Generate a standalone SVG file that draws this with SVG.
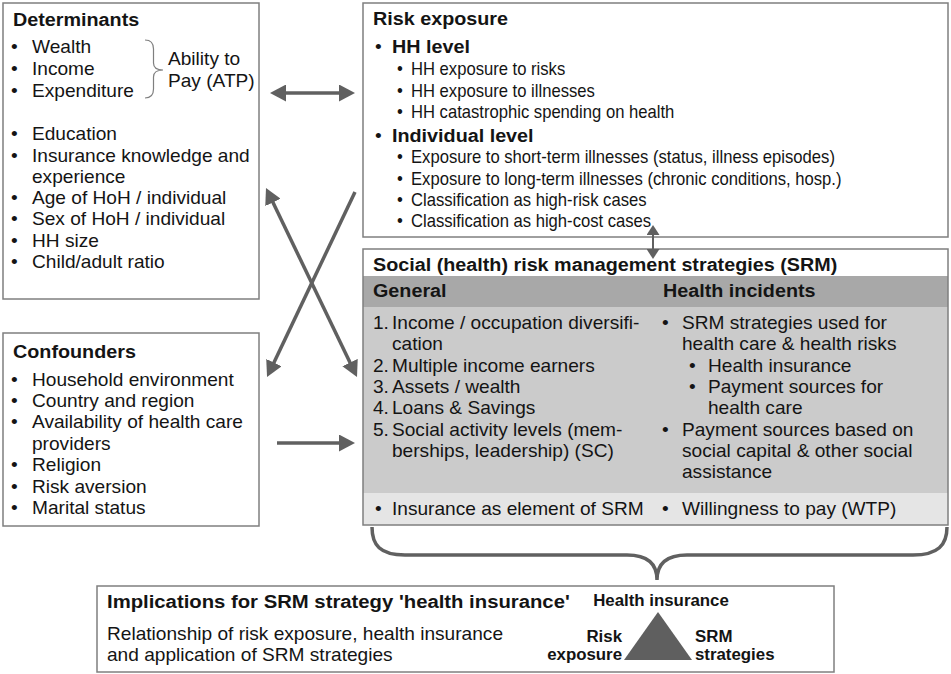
<svg xmlns="http://www.w3.org/2000/svg" width="951" height="674" viewBox="0 0 951 674">
<defs>
<style>
text{font-family:"Liberation Sans",Arial,Helvetica,sans-serif;fill:#141414}
.r{font-size:17.7px}
.b{font-size:18.3px;font-weight:bold}
.bt{font-size:18.8px;font-weight:bold}
.s{font-size:15.6px;font-weight:bold}
.box{fill:#fff;stroke:#7f7f7f;stroke-width:1.5}
.frame{fill:none;stroke:#7f7f7f;stroke-width:1.5}
.arrow{stroke:#606060;stroke-width:3.5;fill:none}
.thin{stroke:#606060;stroke-width:2;fill:none}
.brace{stroke:#7f7f7f;stroke-width:1.2;fill:none}
</style>
<marker id="head" markerUnits="userSpaceOnUse" viewBox="0 0 16 17" markerWidth="16" markerHeight="17" refX="4" refY="8.5" orient="auto-start-reverse">
<path d="M0,0 L16,8.5 L0,17 z" fill="#606060"/>
</marker>
<marker id="headS" markerUnits="userSpaceOnUse" viewBox="0 0 10 13" markerWidth="10" markerHeight="13" refX="3" refY="6.5" orient="auto-start-reverse">
<path d="M0,0 L10,6.5 L0,13 z" fill="#606060"/>
</marker>
</defs>
<rect x="0" y="0" width="951" height="674" fill="#fff"/>

<!-- Determinants -->
<g id="determinants">
<rect class="box" x="3" y="3" width="256" height="296"/>
<g transform="translate(13 0) scale(1.08 1)"><text class="b" y="26">Determinants</text></g>
<g transform="translate(11 0) scale(1.08 1)"><text class="r">
<tspan x="0" y="53">•</tspan><tspan x="0" y="75">•</tspan><tspan x="0" y="97">•</tspan>
<tspan x="0" y="140">•</tspan><tspan x="0" y="162">•</tspan><tspan x="0" y="204">•</tspan>
<tspan x="0" y="225">•</tspan><tspan x="0" y="247">•</tspan><tspan x="0" y="268">•</tspan></text></g>
<g transform="translate(32 0) scale(1.08 1)"><text class="r">
<tspan x="0" y="53">Wealth</tspan><tspan x="0" y="75">Income</tspan><tspan x="0" y="97">Expenditure</tspan>
<tspan x="0" y="140">Education</tspan><tspan x="0" y="162">Insurance knowledge and</tspan><tspan x="0" y="183">experience</tspan>
<tspan x="0" y="204">Age of HoH / individual</tspan><tspan x="0" y="225">Sex of HoH / individual</tspan>
<tspan x="0" y="247">HH size</tspan><tspan x="0" y="268">Child/adult ratio</tspan></text></g>
<path class="brace" d="M145,40 Q153.5,40 153.5,49 L153.5,63 Q153.5,70 163,70 Q153.5,70 153.5,77 L153.5,89 Q153.5,98 145,98"/>
<g transform="translate(168 0) scale(1.08 1)"><text class="r"><tspan x="0" y="65">Ability to</tspan><tspan x="0" y="87">Pay (ATP)</tspan></text></g>
</g>

<!-- Confounders -->
<g id="confounders">
<rect class="box" x="3" y="333" width="256" height="193"/>
<g transform="translate(13 0) scale(1.08 1)"><text class="b" y="358">Confounders</text></g>
<g transform="translate(11 0) scale(1.08 1)"><text class="r">
<tspan x="0" y="386">•</tspan><tspan x="0" y="407">•</tspan><tspan x="0" y="428">•</tspan>
<tspan x="0" y="471">•</tspan><tspan x="0" y="493">•</tspan><tspan x="0" y="514">•</tspan></text></g>
<g transform="translate(32 0) scale(1.08 1)"><text class="r">
<tspan x="0" y="386">Household environment</tspan><tspan x="0" y="407">Country and region</tspan>
<tspan x="0" y="428">Availability of health care</tspan><tspan x="0" y="450">providers</tspan>
<tspan x="0" y="471">Religion</tspan><tspan x="0" y="493">Risk aversion</tspan><tspan x="0" y="514">Marital status</tspan></text></g>
</g>

<!-- Risk exposure -->
<g id="risk-exposure">
<rect class="box" x="363" y="3" width="585" height="234"/>
<g transform="translate(373 0) scale(1.08 1)"><text class="b" y="25">Risk exposure</text></g>
<g transform="translate(375 0) scale(1.08 1)"><text class="r"><tspan x="0" y="53">•</tspan><tspan x="0" y="142">•</tspan></text></g>
<g transform="translate(392 0) scale(1.08 1)"><text class="b"><tspan x="0" y="53">HH level</tspan><tspan x="0" y="142">Individual level</tspan></text></g>
<g transform="translate(397 0) scale(0.94 1)"><text class="r">
<tspan x="0" y="75">•</tspan><tspan x="0" y="97">•</tspan><tspan x="0" y="118">•</tspan>
<tspan x="0" y="163">•</tspan><tspan x="0" y="185">•</tspan><tspan x="0" y="206">•</tspan><tspan x="0" y="227">•</tspan></text></g>
<g transform="translate(411 0) scale(0.94 1)"><text class="r">
<tspan x="0" y="75">HH exposure to risks</tspan><tspan x="0" y="97">HH exposure to illnesses</tspan>
<tspan x="0" y="118">HH catastrophic spending on health</tspan>
<tspan x="0" y="163">Exposure to short-term illnesses (status, illness episodes)</tspan>
<tspan x="0" y="185">Exposure to long-term illnesses (chronic conditions, hosp.)</tspan>
<tspan x="0" y="206">Classification as high-risk cases</tspan>
<tspan x="0" y="227">Classification as high-cost cases</tspan></text></g>
</g>

<!-- Social risk management strategies -->
<g id="srm">
<rect x="363" y="249" width="585" height="276" fill="#fff"/>
<rect x="363" y="276" width="585" height="31" fill="#a8a8a8"/>
<rect x="363" y="307" width="585" height="186" fill="#cbcbcb"/>
<rect x="363" y="493" width="585" height="32" fill="#e5e5e5"/>
<rect class="frame" x="363" y="249" width="585" height="276"/>
<g transform="translate(373 0) scale(1.08 1)"><text class="b"><tspan x="0" y="271">Social (health) risk management strategies (SRM)</tspan><tspan x="0" y="297">General</tspan></text></g>
<g transform="translate(663 0) scale(1.08 1)"><text class="b" y="297">Health incidents</text></g>
<g transform="translate(373 0) scale(1.08 1)"><text class="r">
<tspan x="0" y="329">1.</tspan><tspan x="0" y="372">2.</tspan><tspan x="0" y="393">3.</tspan><tspan x="0" y="414">4.</tspan><tspan x="0" y="436">5.</tspan></text></g>
<g transform="translate(392 0) scale(1.08 1)"><text class="r">
<tspan x="0" y="329">Income / occupation diversifi-</tspan><tspan x="0" y="350">cation</tspan>
<tspan x="0" y="372">Multiple income earners</tspan><tspan x="0" y="393">Assets / wealth</tspan>
<tspan x="0" y="414">Loans &amp; Savings</tspan><tspan x="0" y="436">Social activity levels (mem-</tspan>
<tspan x="0" y="457">berships, leadership) (SC)</tspan>
<tspan x="0" y="515">Insurance as element of SRM</tspan></text></g>
<g transform="translate(375 0) scale(1.08 1)"><text class="r" y="515">•</text></g>
<g transform="translate(662 0) scale(1.08 1)"><text class="r">
<tspan x="0" y="329">•</tspan><tspan x="0" y="436">•</tspan><tspan x="0" y="515">•</tspan></text></g>
<g transform="translate(682 0) scale(1.08 1)"><text class="r">
<tspan x="0" y="329">SRM strategies used for</tspan><tspan x="0" y="350">health care &amp; health risks</tspan>
<tspan x="0" y="436">Payment sources based on</tspan><tspan x="0" y="457">social capital &amp; other social</tspan>
<tspan x="0" y="478">assistance</tspan>
<tspan x="0" y="515">Willingness to pay (WTP)</tspan></text></g>
<g transform="translate(689 0) scale(1.08 1)"><text class="r"><tspan x="0" y="372">•</tspan><tspan x="0" y="393">•</tspan></text></g>
<g transform="translate(708 0) scale(1.08 1)"><text class="r">
<tspan x="0" y="372">Health insurance</tspan><tspan x="0" y="393">Payment sources for</tspan><tspan x="0" y="414">health care</tspan></text></g>
</g>

<!-- Implications -->
<g id="implications">
<rect class="box" x="97" y="586" width="737" height="86"/>
<g transform="translate(107 0) scale(1.08 1)"><text class="bt" y="608">Implications for SRM strategy 'health insurance'</text></g>
<g transform="translate(107 0) scale(1.08 1)"><text class="r"><tspan x="0" y="640">Relationship of risk exposure, health insurance</tspan><tspan x="0" y="661">and application of SRM strategies</tspan></text></g>
<polygon points="658,612 692,660 624,660" fill="#5f5f5f"/>
<g transform="translate(661 0) scale(1.08 1)"><text class="s" y="606" text-anchor="middle">Health insurance</text></g>
<g transform="translate(622 0) scale(1.08 1)"><text class="s" text-anchor="end"><tspan x="0" y="642">Risk</tspan><tspan x="0" y="660">exposure</tspan></text></g>
<g transform="translate(695 0) scale(1.08 1)"><text class="s"><tspan x="0" y="642">SRM</tspan><tspan x="0" y="660">strategies</tspan></text></g>
</g>

<!-- Connectors -->
<g id="connectors">
<line class="arrow" x1="282" y1="93" x2="343" y2="93" marker-start="url(#head)" marker-end="url(#head)"/>
<line class="arrow" x1="271.2" y1="198.8" x2="351.8" y2="366.2" marker-start="url(#head)" marker-end="url(#head)"/>
<line class="arrow" x1="355" y1="192" x2="272.2" y2="366.2" marker-end="url(#head)"/>
<line class="arrow" x1="277" y1="443" x2="343" y2="443" marker-end="url(#head)"/>
<line class="thin" x1="653" y1="232" x2="653" y2="252" marker-start="url(#headS)" marker-end="url(#headS)"/>
<path class="arrow" stroke-width="3" d="M372,527 C372,545 380,555 405,555 L627,555 C645,555 657,562 657,580 C657,562 669,555 687,555 L913,555 C938,555 947,545 947,527"/>
</g>
</svg>
